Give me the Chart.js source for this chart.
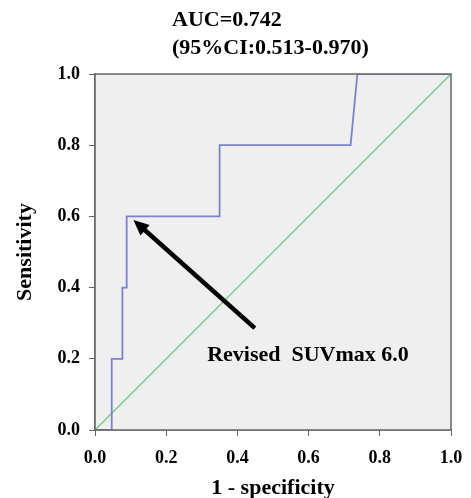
<!DOCTYPE html>
<html>
<head>
<meta charset="utf-8">
<script src="https://cdn.jsdelivr.net/npm/chart.js@4"></script>
<style>
  body { margin: 0; background: #fff; }
  #wrap { width: 471px; height: 498px; }
</style>
</head>
<body>
<div id="wrap"><canvas id="rocChart"></canvas></div>
<script>
// ROC curve points (1 - specificity, sensitivity)
const rocFpr = [0, 0.047, 0.047, 0.077, 0.077, 0.089, 0.089, 0.35, 0.35, 0.718, 0.737, 1];
const rocTpr = [0, 0, 0.2, 0.2, 0.4, 0.4, 0.6, 0.6, 0.8, 0.8, 1, 1];
// reference line
const refX = [0, 1];
const refY = [0, 1];
// arrow from label to cut-off point
const arrowFrom = [0.449, 0.286];
const arrowTo = [0.108, 0.59];
const titleLines = ['AUC=0.742', '(95%CI:0.513-0.970)'];
const noteText = 'Revised  SUVmax 6.0';
const notePos = [0.315, 0.21];

const serif = '"Liberation Serif", "Times New Roman", serif';

// === plot background, frame, arrow and texts ===
const decor = {
  id: 'decor',
  beforeDatasetsDraw(chart) {
    const { ctx, chartArea: a } = chart;
    ctx.save();
    ctx.fillStyle = '#efefef';
    ctx.fillRect(a.left, a.top, a.right - a.left, a.bottom - a.top);
    ctx.restore();
  },
  afterDatasetsDraw(chart) {
    const { ctx, chartArea: a, scales: { x, y } } = chart;
    ctx.save();
    ctx.strokeStyle = '#666';
    ctx.lineWidth = 1.5;
    ctx.strokeRect(a.left, a.top, a.right - a.left, a.bottom - a.top);

    // arrow
    const x1 = x.getPixelForValue(arrowFrom[0]), y1 = y.getPixelForValue(arrowFrom[1]);
    const x2 = x.getPixelForValue(arrowTo[0]), y2 = y.getPixelForValue(arrowTo[1]);
    const ang = Math.atan2(y2 - y1, x2 - x1);
    const head = 17;
    ctx.strokeStyle = '#000';
    ctx.fillStyle = '#000';
    ctx.lineWidth = 4.5;
    ctx.beginPath();
    ctx.moveTo(x1, y1);
    ctx.lineTo(x2 - Math.cos(ang) * head * 0.8, y2 - Math.sin(ang) * head * 0.8);
    ctx.stroke();
    ctx.beginPath();
    ctx.moveTo(x2, y2);
    ctx.lineTo(x2 - head * Math.cos(ang - 0.42), y2 - head * Math.sin(ang - 0.42));
    ctx.lineTo(x2 - head * Math.cos(ang + 0.42), y2 - head * Math.sin(ang + 0.42));
    ctx.closePath();
    ctx.fill();

    // annotation
    ctx.font = 'bold 22px ' + serif;
    ctx.textBaseline = 'middle';
    ctx.textAlign = 'left';
    ctx.fillText(noteText, x.getPixelForValue(notePos[0]), y.getPixelForValue(notePos[1]));

    // title
    ctx.font = 'bold 22px ' + serif;
    ctx.fillText(titleLines[0], 172, 20);
    ctx.fillText(titleLines[1], 172, 48);
    ctx.restore();
  }
};

const ctx = document.getElementById('rocChart').getContext('2d');

new Chart(ctx, {
  type: 'scatter',
  data: {
    datasets: [
      {
        label: 'ROC',
        data: rocFpr.map((v, i) => ({ x: v, y: rocTpr[i] })),
        showLine: true,
        borderColor: '#7a84c8',
        borderWidth: 1.8,
        pointRadius: 0,
        tension: 0
      },
      {
        label: 'Reference',
        data: refX.map((v, i) => ({ x: v, y: refY[i] })),
        showLine: true,
        borderColor: '#7ccb8c',
        borderWidth: 1.5,
        pointRadius: 0
      }
    ]
  },
  options: {
    responsive: true,
    maintainAspectRatio: false,
    animation: false,
    layout: { padding: { top: 74, right: 0, left: 12, bottom: -4 } },
    plugins: {
      legend: { display: false },
      tooltip: { enabled: false }
    },
    scales: {
      x: {
        type: 'linear',
        min: 0,
        max: 1,
        afterFit: s => { s.height = 72; s.paddingRight = 20; },
        ticks: {
          stepSize: 0.2,
          color: '#000',
          font: { family: serif, size: 18, weight: 'bold' },
          callback: v => v.toFixed(1),
          padding: 12
        },
        grid: { drawOnChartArea: false, drawTicks: true, tickLength: 6, color: '#666' },
        border: { color: '#666', width: 1.5 },
        title: {
          display: true,
          text: '1 - specificity',
          color: '#000',
          font: { family: serif, size: 22, weight: 'bold' },
          padding: { top: 6, bottom: 0 }
        }
      },
      y: {
        type: 'linear',
        min: 0,
        max: 1,
        afterFit: s => { s.width = 83; },
        ticks: {
          stepSize: 0.2,
          color: '#000',
          font: { family: serif, size: 18, weight: 'bold' },
          callback: v => v.toFixed(1),
          padding: 9
        },
        grid: { drawOnChartArea: false, drawTicks: true, tickLength: 6, color: '#666' },
        border: { color: '#666', width: 1.5 },
        title: {
          display: true,
          text: 'Sensitivity',
          color: '#000',
          font: { family: serif, size: 22, weight: 'bold' },
          padding: { top: 0, bottom: 18 }
        }
      }
    }
  },
  plugins: [decor]
});
</script>
</body>
</html>
